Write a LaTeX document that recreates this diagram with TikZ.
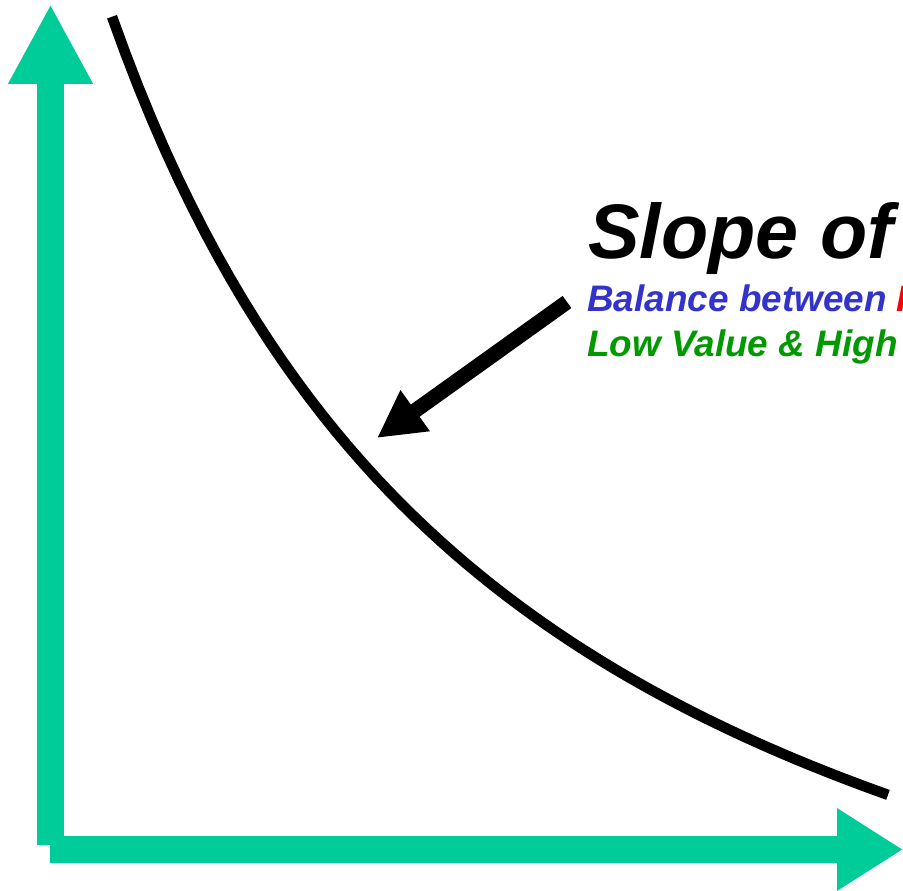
\documentclass[tikz,border=0pt]{standalone}
\usepackage{fontspec}
\setmainfont{Liberation Sans}
\usetikzlibrary{arrows.meta}

\definecolor{axisgreen}{RGB}{0,204,153}
\definecolor{noteblue}{RGB}{51,51,204}
\definecolor{notegreen}{RGB}{0,153,0}

\def\xunit{0.02cm}
\def\yunit{-0.02cm}

\begin{document}
\begin{tikzpicture}[x=\xunit, y=\yunit,
  axisline/.style={draw=axisgreen, line width=0.54cm},
  pointer/.style={line width=0.3cm, -{Triangle[length=0.94cm, width=0.94cm]}},
  bigtext/.style={anchor=base west, inner sep=0pt, font=\fontsize{44}{50}\selectfont\bfseries\itshape},
  smalltext/.style={anchor=base west, inner sep=0pt, font=\fontsize{21}{24}\selectfont\bfseries\itshape}]

% ---- frame (0,0) to (903,890), picture is cut at the right ----
\useasboundingbox (0,0) rectangle (903,890);
\clip (0,0) rectangle (903,890);

% ---- axes ----
\coordinate (ybot) at (50.5,845);
\coordinate (ytop) at (50.5,4);
\coordinate (xleft) at (50,849.5);
\coordinate (xright) at (903,849.5);
\draw[axisline, -{Triangle[length=1.6cm, width=1.58cm]}] (ybot) -- (ytop);
\draw[axisline, -{Triangle[length=1.32cm, width=1.56cm]}] (xleft) -- (xright);

% ---- curve: y = 1223 - a/(x+315) ----
\draw[line width=0.21cm] plot[domain=112:888, samples=60]
  (\x, {1223 - 515.07/((\x+315)/1000)});

% ---- labels ----
\node[bigtext] (slope) at (588,258) {Slope of};
\node[smalltext, text=noteblue] (balance) at (587,311) {Balance between {\color{red}R}};
\node[smalltext, text=notegreen] (lowhigh) at (587,356) {Low Value \& High};

% ---- pointer onto the curve ----
\coordinate (tail) at (567,302);
\coordinate (tip) at (377,438);
\draw[pointer] (tail) -- (tip);

\end{tikzpicture}
\end{document}
